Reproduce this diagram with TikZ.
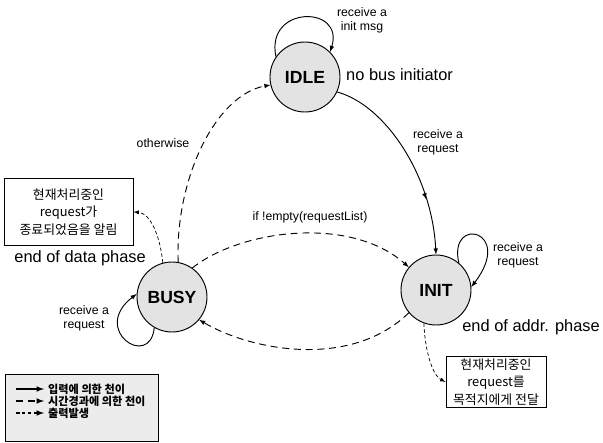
\documentclass[tikz,border=0pt]{standalone}
\usepackage{fontspec}
\setmainfont{Liberation Sans}
\newfontfamily\krFont{Noto Sans CJK KR}
\usepackage{tikz}
\usetikzlibrary{arrows,decorations.markings}
\newcommand{\pixelUnit}{0.03cm}
\newcommand{\stateSize}{2.1cm}
\newcommand{\phaseFont}{\fontsize{14}{16}\selectfont}
\newcommand{\edgeFont}{\fontsize{10.5}{12}\selectfont}
\newcommand{\boxFont}{\krFont\fontsize{11}{15}\selectfont}

\begin{document}
\begin{tikzpicture}[x=\pixelUnit, y=-\pixelUnit, >=latex,
    stateNode/.style={circle, draw, thick, fill=gray!22, minimum size=\stateSize, inner sep=0pt, font=\fontsize{15}{17}\selectfont\bfseries},
    edgeLabel/.style={font=\edgeFont, align=center, inner sep=1pt},
    phaseLabel/.style={font=\phaseFont, inner sep=0pt},
    outBox/.style={draw, thick, fill=white, font=\boxFont, align=center, inner sep=2pt},
    inputArrow/.style={->, thick},
    timeArrow/.style={->, thick, dash pattern=on 6pt off 4pt},
    outputArrow/.style={->, semithick, dash pattern=on 3pt off 2pt},
    midArrow/.style={postaction={decorate}, decoration={markings, mark=at position 0.72 with {\arrow{latex}}}}]
  \useasboundingbox (0,0) rectangle (603,443);

  \node[stateNode] (idle) at (305,77) {IDLE};
  \node[stateNode] (busy) at (172,297) {BUSY};
  \node[stateNode] (init) at (436,290) {INIT};

  \node[outBox, minimum width=3.87cm, minimum height=2.0cm] (doneBox) at (68.5,212) {현재처리중인\\request가\\종료되었음을 알림};
  \node[outBox, minimum width=3.0cm, minimum height=1.55cm] (sendBox) at (496,382) {현재처리중인\\request를\\목적지에게 전달};

  \node[phaseLabel, anchor=west] (idleNote) at (346,75) {no bus initiator};
  \node[phaseLabel, anchor=east] (busyNote) at (146,258) {end of data phase};
  \node[phaseLabel, anchor=east] (initNote) at (600,327) {end of addr. phase};

  \draw[inputArrow] (idle.145) .. controls (265,5) and (345,5) .. (idle.45);
  \node[edgeLabel] (idleLoop) at (362,20) {receive a\\init msg};

  \draw[inputArrow, midArrow] (idle.-25) .. controls (385,105) and (432,175) .. (init.90);
  \node[edgeLabel] (idleInit) at (438,142) {receive a\\request};

  \draw[inputArrow] (init.50) .. controls (448,215) and (515,230) .. (init.5);
  \node[edgeLabel] (initLoop) at (518,255) {receive a\\request};

  \draw[inputArrow] (busy.240) .. controls (150,370) and (90,330) .. (busy.175);
  \node[edgeLabel] (busyLoop) at (84,318) {receive a\\request};

  \draw[timeArrow] (busy.80) .. controls (175,180) and (215,95) .. (idle.193);
  \node[edgeLabel] (busyIdle) at (163,143) {otherwise};

  \draw[timeArrow] (busy.55) .. controls (240,230) and (350,215) .. (init.140);
  \node[edgeLabel] (busyInit) at (310,217) {if !empty(requestList)};

  \draw[timeArrow] (init.220) .. controls (350,370) and (250,350) .. (busy.-40);

  \draw[outputArrow] (busy.105) .. controls (160,235) and (150,213) .. (doneBox.east);
  \draw[outputArrow] (init.250) .. controls (425,350) and (432,375) .. (sendBox.west);

  \node[draw, thick, fill=gray!15, minimum width=4.59cm, minimum height=2.01cm, anchor=north west] (legend) at (5,374) {};
  \foreach \rowY/\rowStyle/\rowText [count=\rowNum] in {389/inputArrow/입력에 의한 천이, 401/timeArrow/시간경과에 의한 천이, 413/outputArrow/출력발생} {
    \coordinate (legendFrom\rowNum) at (16,\rowY);
    \coordinate (legendTo\rowNum) at (44,\rowY);
    \draw[\rowStyle, line width=1.2pt] (legendFrom\rowNum) -- (legendTo\rowNum);
    \node[anchor=west, inner sep=0pt, font=\krFont\fontsize{9.5}{10}\selectfont\bfseries] (legendText\rowNum) at (48,\rowY) {\rowText};
  }
\end{tikzpicture}
\end{document}
